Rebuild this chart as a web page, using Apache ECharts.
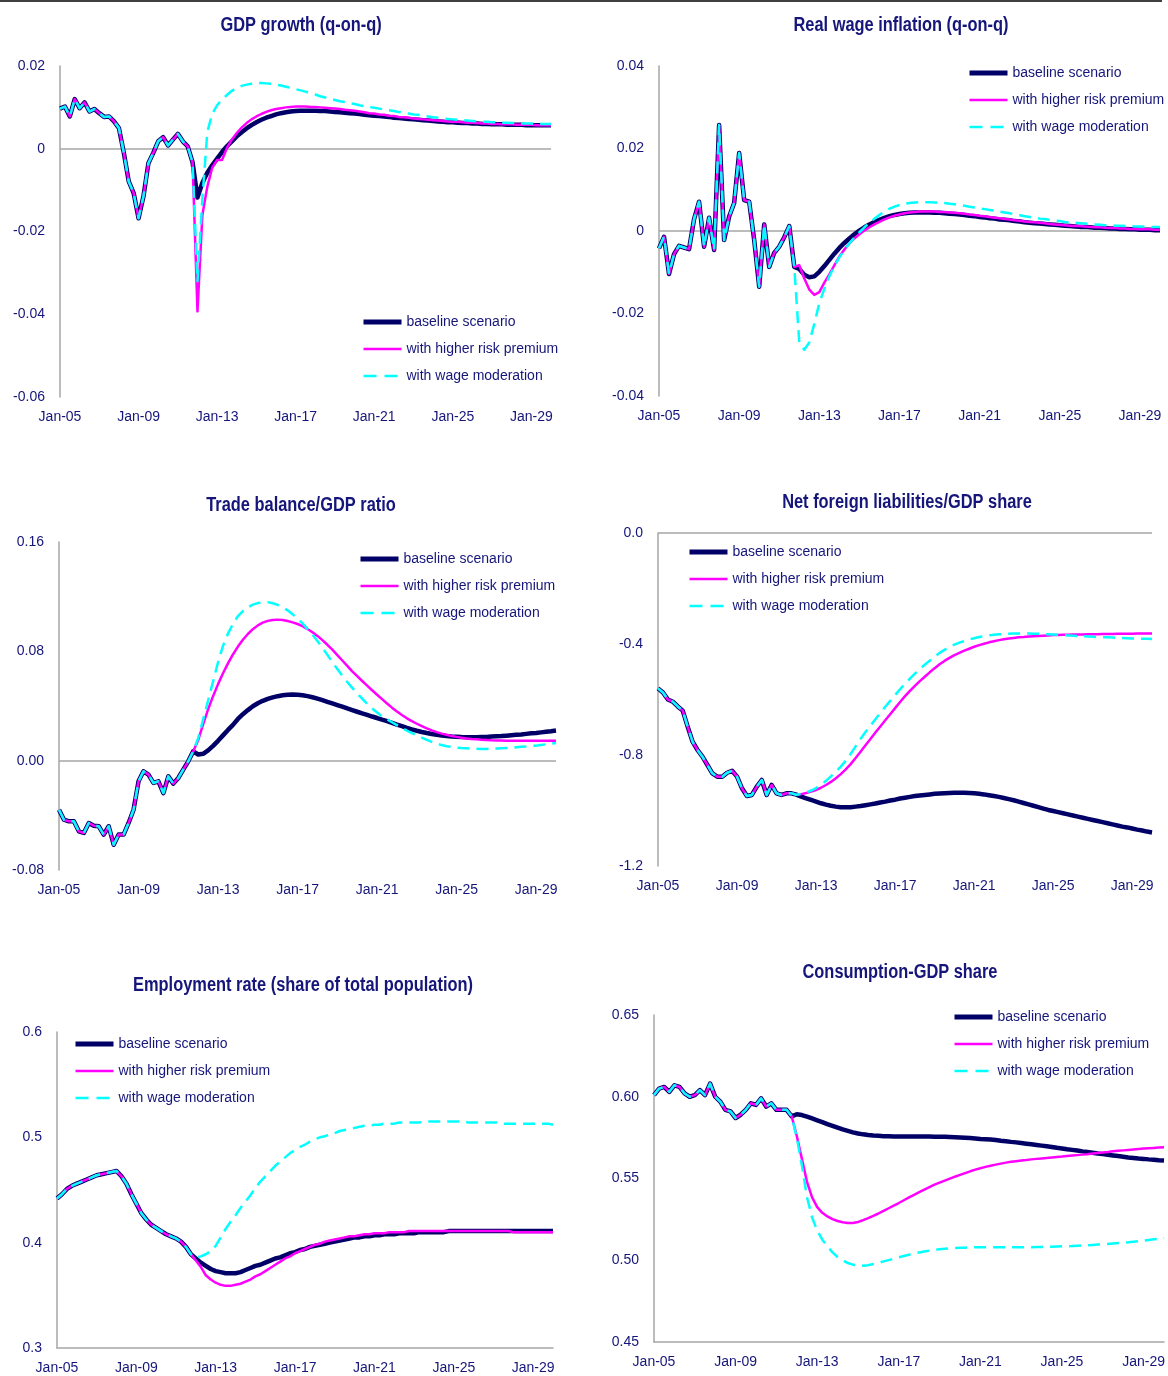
<!DOCTYPE html>
<html><head><meta charset="utf-8">
<script src="https://cdn.jsdelivr.net/npm/echarts@6/dist/echarts.min.js"></script>
<style>html,body{margin:0;padding:0;background:#fff}#c{width:1168px;height:1376px}</style>
</head><body><div id="c"></div>
<script>
// ---------- categories (quarterly, Jan-05 .. Jan-30) ----------
const quarterMonths = ['Jan','Apr','Jul','Oct'];
const firstYear = 2005, nQuarters = 101;
const categories = [];
for (let k = 0; k < nQuarters; k++) {
  const y = firstYear + Math.floor(k / 4);
  categories.push(quarterMonths[k % 4] + '-' + String(y % 100).padStart(2, '0'));
}
const seriesNames = ['baseline scenario', 'with higher risk premium', 'with wage moderation'];

// ---------- GDP growth (q-on-q) ----------
const gdpHist = [0.0097,0.0102,0.0078,0.0120,0.0098,0.0112,0.0090,0.0096,0.0086,0.0077,
  0.0078,0.0066,0.0050,-0.0010,-0.0079,-0.0107,-0.0168,-0.0115,-0.0035,-0.0010,
  0.0018,0.0028,0.0008,0.0022,0.0036,0.0018,0.0006,-0.0033];
const gdpBase = [-0.0118,-0.0082,-0.0058,-0.0040,-0.0024,-0.0008,0.0006,0.0018,0.0030,0.0040,
  0.0049,0.0057,0.0064,0.0070,0.0075,0.0079,0.0083,0.0086,0.0088,0.0090,
  0.0091,0.0092,0.0092,0.0092,0.0092,0.0091,0.0091,0.0090,0.0089,0.0088,
  0.0087,0.0086,0.0085,0.0084,0.0082,0.0081,0.0080,0.0079,0.0078,0.0077,
  0.0075,0.0074,0.0073,0.0072,0.0071,0.0070,0.0069,0.0068,0.0067,0.0066,
  0.0065,0.0064,0.0064,0.0063,0.0062,0.0062,0.0061,0.0061,0.0060,0.0060,
  0.0059,0.0059,0.0059,0.0058,0.0058,0.0058,0.0058,0.0057,0.0057,0.0057,
  0.0057,0.0057,0.0057];
const gdpRisk = [-0.0393,-0.0160,-0.0092,-0.0046,-0.0027,-0.0027,0.0002,0.0022,0.0038,0.0051,
  0.0062,0.0071,0.0078,0.0084,0.0089,0.0093,0.0096,0.0098,0.0100,0.0101,
  0.0102,0.0102,0.0102,0.0101,0.0101,0.0100,0.0099,0.0098,0.0097,0.0096,
  0.0094,0.0093,0.0092,0.0090,0.0088,0.0086,0.0085,0.0083,0.0082,0.0080,
  0.0079,0.0077,0.0076,0.0075,0.0073,0.0072,0.0071,0.0070,0.0069,0.0068,
  0.0067,0.0066,0.0065,0.0065,0.0064,0.0063,0.0063,0.0062,0.0061,0.0061,
  0.0060,0.0060,0.0059,0.0059,0.0059,0.0058,0.0058,0.0058,0.0058,0.0057,
  0.0057,0.0057,0.0057];
const gdpWage = [-0.0320,-0.0120,0.0040,0.0085,0.0105,0.0119,0.0130,0.0140,0.0147,0.0152,
  0.0155,0.0157,0.0159,0.0159,0.0158,0.0157,0.0155,0.0153,0.0150,0.0147,
  0.0144,0.0141,0.0138,0.0134,0.0131,0.0127,0.0124,0.0121,0.0118,0.0115,
  0.0113,0.0110,0.0108,0.0105,0.0103,0.0101,0.0099,0.0097,0.0095,0.0093,
  0.0091,0.0089,0.0087,0.0085,0.0083,0.0082,0.0080,0.0078,0.0076,0.0075,
  0.0073,0.0072,0.0071,0.0070,0.0069,0.0068,0.0067,0.0066,0.0065,0.0065,
  0.0064,0.0064,0.0063,0.0063,0.0062,0.0062,0.0061,0.0061,0.0061,0.0060,
  0.0060,0.0060,0.0060];
const gdpTicks = ['-0.06','-0.04','-0.02','0','0.02'];

// ---------- Real wage inflation (q-on-q) ----------
const rwiHist = [-0.0042,-0.0014,-0.0104,-0.0056,-0.0036,-0.0040,-0.0044,0.0029,0.0071,-0.0038,
  0.0032,-0.0046,0.0257,-0.0022,0.0035,0.0068,0.0189,0.0075,0.0071,-0.0022,
  -0.0135,0.0016,-0.0087,-0.0053,-0.0038,-0.0015,0.0012,-0.0087];
const rwiBase = [-0.0092,-0.0106,-0.0112,-0.0110,-0.0099,-0.0085,-0.0070,-0.0055,-0.0041,-0.0029,
  -0.0018,-0.0008,0.0001,0.0009,0.0016,0.0022,0.0027,0.0032,0.0036,0.0039,
  0.0041,0.0043,0.0044,0.0045,0.0045,0.0045,0.0045,0.0044,0.0044,0.0043,
  0.0042,0.0041,0.0040,0.0039,0.0037,0.0036,0.0034,0.0033,0.0031,0.0030,
  0.0028,0.0027,0.0026,0.0024,0.0023,0.0021,0.0020,0.0019,0.0018,0.0017,
  0.0016,0.0015,0.0014,0.0013,0.0012,0.0011,0.0010,0.0010,0.0009,0.0008,
  0.0008,0.0007,0.0006,0.0006,0.0005,0.0005,0.0004,0.0004,0.0003,0.0003,
  0.0003,0.0002,0.0002];
const rwiRisk = [-0.0083,-0.0115,-0.0142,-0.0155,-0.0148,-0.0125,-0.0105,-0.0083,-0.0062,-0.0045,
  -0.0030,-0.0018,-0.0008,0.0001,0.0009,0.0016,0.0022,0.0028,0.0033,0.0037,
  0.0040,0.0043,0.0045,0.0046,0.0047,0.0047,0.0047,0.0047,0.0046,0.0046,
  0.0045,0.0044,0.0043,0.0042,0.0040,0.0039,0.0037,0.0036,0.0034,0.0032,
  0.0031,0.0029,0.0028,0.0026,0.0025,0.0023,0.0022,0.0021,0.0020,0.0019,
  0.0017,0.0016,0.0015,0.0014,0.0013,0.0012,0.0012,0.0011,0.0010,0.0009,
  0.0009,0.0008,0.0007,0.0007,0.0006,0.0006,0.0005,0.0005,0.0004,0.0004,
  0.0004,0.0003,0.0003];
const rwiWage = [-0.0270,-0.0288,-0.0270,-0.0225,-0.0175,-0.0140,-0.0110,-0.0085,-0.0064,-0.0046,
  -0.0030,-0.0016,-0.0003,0.0009,0.0020,0.0030,0.0039,0.0047,0.0054,0.0059,
  0.0063,0.0066,0.0068,0.0069,0.0070,0.0070,0.0070,0.0069,0.0069,0.0068,
  0.0066,0.0065,0.0063,0.0061,0.0059,0.0057,0.0055,0.0053,0.0051,0.0049,
  0.0047,0.0045,0.0043,0.0040,0.0038,0.0036,0.0034,0.0032,0.0030,0.0029,
  0.0027,0.0025,0.0024,0.0022,0.0021,0.0020,0.0019,0.0018,0.0017,0.0016,
  0.0015,0.0014,0.0014,0.0013,0.0013,0.0012,0.0012,0.0011,0.0011,0.0011,
  0.0010,0.0010,0.0010];
const rwiTicks = ['-0.04','-0.02','0','0.02','0.04'];

// ---------- Trade balance/GDP ratio ----------
const tbHist = [-0.0359,-0.0432,-0.0444,-0.0444,-0.0517,-0.0529,-0.0456,-0.0476,-0.0480,-0.0541,
  -0.0480,-0.0615,-0.0541,-0.0541,-0.0456,-0.0359,-0.0151,-0.0078,-0.0102,-0.0163,
  -0.0151,-0.0237,-0.0115,-0.0168,-0.0127,-0.0066,-0.0005,0.0068];
const tbBase = [0.0045,0.0050,0.0075,0.0108,0.0145,0.0185,0.0225,0.0262,0.0305,0.0340,
  0.0370,0.0398,0.0420,0.0438,0.0452,0.0463,0.0472,0.0478,0.0482,0.0484,
  0.0483,0.0479,0.0472,0.0464,0.0454,0.0443,0.0431,0.0419,0.0407,0.0395,
  0.0382,0.0370,0.0358,0.0346,0.0335,0.0323,0.0312,0.0300,0.0289,0.0277,
  0.0264,0.0252,0.0240,0.0229,0.0219,0.0210,0.0202,0.0195,0.0189,0.0184,
  0.0180,0.0177,0.0175,0.0173,0.0172,0.0172,0.0172,0.0173,0.0174,0.0176,
  0.0178,0.0180,0.0183,0.0186,0.0189,0.0192,0.0196,0.0200,0.0203,0.0207,
  0.0211,0.0215,0.0220];
const tbRisk = [0.0150,0.0265,0.0375,0.0472,0.0560,0.0640,0.0712,0.0777,0.0835,0.0885,
  0.0927,0.0962,0.0990,0.1010,0.1023,0.1030,0.1032,0.1029,0.1022,0.1012,
  0.1000,0.0984,0.0963,0.0940,0.0913,0.0882,0.0848,0.0812,0.0773,0.0733,
  0.0693,0.0654,0.0618,0.0583,0.0549,0.0515,0.0482,0.0450,0.0418,0.0388,
  0.0360,0.0334,0.0310,0.0289,0.0270,0.0252,0.0236,0.0222,0.0209,0.0198,
  0.0189,0.0181,0.0174,0.0168,0.0163,0.0159,0.0156,0.0153,0.0151,0.0149,
  0.0148,0.0147,0.0146,0.0146,0.0146,0.0145,0.0145,0.0145,0.0145,0.0145,
  0.0145,0.0146,0.0146];
const tbWage = [0.0165,0.0300,0.0440,0.0580,0.0720,0.0840,0.0930,0.1000,0.1058,0.1095,
  0.1122,0.1142,0.1153,0.1159,0.1160,0.1152,0.1140,0.1122,0.1100,0.1072,
  0.1040,0.1005,0.0964,0.0922,0.0876,0.0826,0.0774,0.0720,0.0670,0.0622,
  0.0576,0.0533,0.0493,0.0454,0.0416,0.0382,0.0352,0.0325,0.0302,0.0281,
  0.0260,0.0240,0.0220,0.0202,0.0185,0.0168,0.0152,0.0138,0.0125,0.0114,
  0.0106,0.0100,0.0095,0.0092,0.0090,0.0088,0.0087,0.0086,0.0086,0.0087,
  0.0089,0.0091,0.0093,0.0095,0.0098,0.0101,0.0104,0.0107,0.0110,0.0115,
  0.0120,0.0125,0.0129];
const tbTicks = ['-0.08','0.00','0.08','0.16'];

// ---------- Net foreign liabilities/GDP share ----------
const nflHist = [-0.560,-0.575,-0.600,-0.608,-0.625,-0.640,-0.698,-0.752,-0.782,-0.806,
  -0.836,-0.866,-0.878,-0.878,-0.864,-0.857,-0.878,-0.920,-0.948,-0.944,
  -0.914,-0.890,-0.944,-0.908,-0.938,-0.944,-0.938,-0.938];
const nflBase = [-0.943,-0.950,-0.956,-0.962,-0.968,-0.974,-0.979,-0.983,-0.986,-0.988,
  -0.988,-0.988,-0.986,-0.984,-0.981,-0.978,-0.975,-0.971,-0.968,-0.964,
  -0.961,-0.957,-0.954,-0.951,-0.948,-0.946,-0.944,-0.942,-0.940,-0.939,
  -0.938,-0.937,-0.936,-0.936,-0.936,-0.937,-0.938,-0.940,-0.942,-0.945,
  -0.948,-0.951,-0.955,-0.959,-0.963,-0.968,-0.973,-0.978,-0.983,-0.988,
  -0.993,-0.998,-1.002,-1.006,-1.010,-1.014,-1.018,-1.022,-1.026,-1.030,
  -1.034,-1.038,-1.042,-1.046,-1.050,-1.054,-1.058,-1.061,-1.065,-1.069,
  -1.072,-1.076,-1.079];
const nflRisk = [-0.943,-0.941,-0.937,-0.932,-0.926,-0.918,-0.908,-0.897,-0.884,-0.869,
  -0.852,-0.833,-0.811,-0.788,-0.765,-0.742,-0.719,-0.697,-0.675,-0.653,
  -0.631,-0.609,-0.588,-0.569,-0.551,-0.534,-0.518,-0.502,-0.487,-0.473,
  -0.461,-0.450,-0.440,-0.432,-0.424,-0.417,-0.410,-0.404,-0.399,-0.394,
  -0.390,-0.386,-0.383,-0.380,-0.378,-0.376,-0.375,-0.373,-0.372,-0.371,
  -0.370,-0.369,-0.368,-0.368,-0.367,-0.367,-0.366,-0.366,-0.366,-0.365,
  -0.365,-0.365,-0.364,-0.364,-0.364,-0.363,-0.363,-0.363,-0.363,-0.362,
  -0.362,-0.362,-0.362];
const nflWage = [-0.943,-0.940,-0.935,-0.928,-0.919,-0.907,-0.893,-0.877,-0.860,-0.842,
  -0.821,-0.796,-0.769,-0.742,-0.717,-0.694,-0.671,-0.649,-0.626,-0.605,
  -0.584,-0.563,-0.543,-0.525,-0.507,-0.490,-0.475,-0.460,-0.446,-0.432,
  -0.421,-0.411,-0.402,-0.395,-0.389,-0.384,-0.379,-0.375,-0.372,-0.369,
  -0.367,-0.365,-0.364,-0.363,-0.362,-0.362,-0.362,-0.362,-0.363,-0.363,
  -0.364,-0.365,-0.366,-0.367,-0.368,-0.369,-0.370,-0.371,-0.372,-0.373,
  -0.374,-0.375,-0.376,-0.376,-0.377,-0.378,-0.378,-0.379,-0.380,-0.380,
  -0.381,-0.381,-0.382];
const nflTicks = ['-1.2','-0.8','-0.4','0.0'];

// ---------- Employment rate (share of total population) ----------
const empHist = [0.442,0.446,0.451,0.454,0.456,0.458,0.460,0.462,0.464,0.465,
  0.466,0.467,0.468,0.463,0.456,0.446,0.437,0.428,0.422,0.417,
  0.414,0.411,0.408,0.406,0.404,0.401,0.396,0.389];
const empBase = [0.385,0.381,0.378,0.375,0.373,0.372,0.371,0.371,0.371,0.372,
  0.374,0.376,0.378,0.379,0.381,0.383,0.385,0.386,0.388,0.390,
  0.391,0.393,0.394,0.396,0.397,0.398,0.399,0.400,0.401,0.402,
  0.403,0.404,0.405,0.405,0.406,0.406,0.407,0.407,0.408,0.408,
  0.408,0.409,0.409,0.409,0.409,0.410,0.410,0.410,0.410,0.410,
  0.410,0.411,0.411,0.411,0.411,0.411,0.411,0.411,0.411,0.411,
  0.411,0.411,0.411,0.411,0.411,0.411,0.411,0.411,0.411,0.411,
  0.411,0.411,0.411];
const empRisk = [0.383,0.377,0.369,0.365,0.362,0.360,0.359,0.359,0.360,0.361,
  0.363,0.365,0.368,0.370,0.373,0.376,0.379,0.382,0.385,0.387,
  0.390,0.392,0.394,0.396,0.398,0.399,0.401,0.402,0.403,0.404,
  0.405,0.406,0.406,0.407,0.408,0.408,0.409,0.409,0.409,0.410,
  0.410,0.410,0.410,0.411,0.411,0.411,0.411,0.411,0.411,0.411,
  0.411,0.411,0.411,0.411,0.411,0.411,0.411,0.411,0.411,0.411,
  0.411,0.411,0.411,0.411,0.410,0.410,0.410,0.410,0.410,0.410,
  0.410,0.410,0.410];
const empWage = [0.386,0.387,0.389,0.392,0.397,0.405,0.413,0.420,0.426,0.433,
  0.439,0.445,0.452,0.458,0.463,0.468,0.473,0.477,0.481,0.485,
  0.488,0.491,0.493,0.496,0.498,0.500,0.501,0.503,0.504,0.506,
  0.507,0.508,0.509,0.510,0.511,0.511,0.512,0.512,0.513,0.513,
  0.513,0.514,0.514,0.514,0.514,0.514,0.515,0.515,0.515,0.515,
  0.515,0.515,0.515,0.515,0.515,0.514,0.514,0.514,0.514,0.514,
  0.514,0.514,0.513,0.513,0.513,0.513,0.513,0.513,0.513,0.513,
  0.513,0.513,0.512];
const empTicks = ['0.3','0.4','0.5','0.6'];

// ---------- Consumption-GDP share ----------
const consHist = [0.601,0.605,0.606,0.603,0.607,0.606,0.602,0.600,0.601,0.604,
  0.601,0.608,0.600,0.597,0.592,0.591,0.587,0.589,0.592,0.596,
  0.595,0.599,0.594,0.596,0.592,0.592,0.592,0.588];
const consBase = [0.5893,0.5888,0.5878,0.5867,0.5856,0.5845,0.5833,0.5822,0.5811,0.5800,
  0.5791,0.5782,0.5775,0.5770,0.5766,0.5763,0.5761,0.5759,0.5758,0.5757,
  0.5757,0.5757,0.5757,0.5757,0.5757,0.5757,0.5757,0.5756,0.5756,0.5755,
  0.5754,0.5753,0.5751,0.5749,0.5747,0.5745,0.5742,0.5740,0.5738,0.5735,
  0.5731,0.5728,0.5724,0.5721,0.5717,0.5713,0.5709,0.5705,0.5701,0.5697,
  0.5693,0.5688,0.5684,0.5679,0.5675,0.5671,0.5666,0.5662,0.5658,0.5653,
  0.5649,0.5645,0.5641,0.5637,0.5633,0.5629,0.5626,0.5622,0.5620,0.5617,
  0.5615,0.5612,0.5610];
const consRisk = [0.5760,0.5620,0.5480,0.5385,0.5325,0.5290,0.5268,0.5252,0.5240,0.5232,
  0.5228,0.5228,0.5234,0.5245,0.5258,0.5272,0.5286,0.5302,0.5318,0.5334,
  0.5350,0.5367,0.5384,0.5400,0.5416,0.5432,0.5447,0.5462,0.5475,0.5487,
  0.5499,0.5511,0.5522,0.5533,0.5544,0.5554,0.5563,0.5571,0.5578,0.5585,
  0.5591,0.5597,0.5602,0.5606,0.5610,0.5613,0.5617,0.5620,0.5623,0.5626,
  0.5629,0.5632,0.5634,0.5637,0.5640,0.5643,0.5646,0.5649,0.5653,0.5656,
  0.5659,0.5662,0.5666,0.5669,0.5672,0.5675,0.5678,0.5681,0.5683,0.5685,
  0.5687,0.5689,0.5691];
const consWage = [0.5750,0.5580,0.5385,0.5262,0.5180,0.5126,0.5085,0.5048,0.5020,0.5000,
  0.4983,0.4973,0.4968,0.4967,0.4970,0.4977,0.4984,0.4993,0.5001,0.5009,
  0.5018,0.5026,0.5034,0.5041,0.5048,0.5054,0.5059,0.5064,0.5067,0.5070,
  0.5073,0.5075,0.5076,0.5077,0.5078,0.5079,0.5079,0.5080,0.5080,0.5080,
  0.5080,0.5080,0.5080,0.5080,0.5080,0.5080,0.5080,0.5081,0.5081,0.5082,
  0.5083,0.5084,0.5085,0.5086,0.5087,0.5089,0.5090,0.5092,0.5094,0.5096,
  0.5098,0.5100,0.5103,0.5105,0.5108,0.5110,0.5113,0.5116,0.5120,0.5124,
  0.5128,0.5132,0.5137];
const consTicks = ['0.45','0.50','0.55','0.60','0.65'];

// ---------- layout / styling ----------
const FONT = "'Liberation Sans', Arial, Helvetica, sans-serif";
const TXT = '#15157a';
const GRAY = '#a6a6a6';
const panels = [
  {title:'GDP growth (q-on-q)', tx:301, ty:25, grid:{left:60,top:66,width:491,height:331},
   min:-0.06, max:0.02, step:0.02, ticks:gdpTicks, hist:gdpHist, s:[gdpBase,gdpRisk,gdpWage],
   lg:{left:361, top:314}, zero:true, bottom:false},
  {title:'Real wage inflation (q-on-q)', tx:901, ty:25, grid:{left:659,top:66,width:501,height:330},
   min:-0.04, max:0.04, step:0.02, ticks:rwiTicks, hist:rwiHist, s:[rwiBase,rwiRisk,rwiWage],
   lg:{left:967, top:65}, zero:true, bottom:false},
  {title:'Trade balance/GDP ratio', tx:301, ty:505, grid:{left:59,top:542,width:497,height:328},
   min:-0.08, max:0.16, step:0.08, ticks:tbTicks, hist:tbHist, s:[tbBase,tbRisk,tbWage],
   lg:{left:358, top:551}, zero:true, bottom:false},
  {title:'Net foreign liabilities/GDP share', tx:907, ty:502, grid:{left:658,top:533,width:494,height:333},
   min:-1.2, max:0, step:0.4, ticks:nflTicks, hist:nflHist, s:[nflBase,nflRisk,nflWage],
   lg:{left:687, top:544}, zero:true, bottom:false},
  {title:'Employment rate (share of total population)', tx:303, ty:985, grid:{left:57,top:1032,width:496,height:316},
   min:0.3, max:0.6, step:0.1, ticks:empTicks, hist:empHist, s:[empBase,empRisk,empWage],
   lg:{left:73, top:1036}, zero:false, bottom:true},
  {title:'Consumption-GDP share', tx:900, ty:972, grid:{left:654,top:1015,width:510,height:327},
   min:0.45, max:0.65, step:0.05, ticks:consTicks, hist:consHist, s:[consBase,consRisk,consWage],
   lg:{left:952, top:1009}, zero:false, bottom:true}
];
const lineStyles = [
  {color:'#000066', width:4.5, type:'solid'},
  {color:'#ff00ff', width:2.5, type:'solid'},
  {color:'#00ffff', width:2.5, type:[12,7]}
];
const legendLine = [
  {width:5, type:'solid'}, {width:2.5, type:'solid'}, {width:2.5, type:[13,8]}
];

panels.forEach(p => {
  if (p.hist.length !== 28) throw new Error(p.title + ' hist len ' + p.hist.length);
  p.s.forEach((a, j) => { if (a.length !== 73) throw new Error(p.title + ' series ' + j + ' len ' + a.length); });
});

const grids = [], xAxes = [], yAxes = [], series = [], legends = [], graphics = [];
panels.forEach((p, k) => {
  grids.push(Object.assign({containLabel:false}, p.grid));
  xAxes.push({
    type:'category', gridIndex:k, data:categories, boundaryGap:false,
    axisLine:{show:p.bottom, onZero:false, lineStyle:{color:GRAY, width:1.5}},
    axisTick:{show:false}, splitLine:{show:false},
    axisLabel:{interval:15, margin:13, color:TXT, fontSize:14, fontFamily:FONT}
  });
  yAxes.push({
    type:'value', gridIndex:k, min:p.min, max:p.max, interval:p.step,
    axisLine:{show:true, onZero:false, lineStyle:{color:GRAY, width:1.5}},
    axisTick:{show:false}, splitLine:{show:false},
    axisLabel:{margin:15, color:TXT, fontSize:14, fontFamily:FONT,
      formatter: v => p.ticks[Math.round((v - p.min) / p.step)]}
  });
  seriesNames.forEach((nm, j) => {
    const s = {
      type:'line', name:nm, xAxisIndex:k, yAxisIndex:k,
      data: p.hist.concat(p.s[j]),
      symbol:'none', showSymbol:false, silent:true,
      lineStyle:Object.assign({cap:'butt', join:'round'}, lineStyles[j]),
      itemStyle:{color:lineStyles[j].color},
      z: 3 + j
    };
    if (j === 0 && p.zero) {
      s.markLine = {silent:true, symbol:['none','none'], z:1, label:{show:false},
        lineStyle:{color:GRAY, width:1.5, type:'solid'}, data:[{yAxis:0}]};
    }
    series.push(s);
  });
  legends.push({
    orient:'vertical', left:p.lg.left, top:p.lg.top, padding:0,
    itemWidth:38, itemHeight:16, itemGap:11, selectedMode:false,
    itemStyle:{opacity:0},
    textStyle:{fontSize:14, color:TXT, fontFamily:FONT, lineHeight:16},
    data: seriesNames.map((nm, j) => ({name:nm, itemStyle:{opacity:0},
      lineStyle:{width:legendLine[j].width, type:legendLine[j].type}}))
  });
  graphics.push({
    type:'text', x:p.tx, y:p.ty, scaleX:0.82, scaleY:1, silent:true,
    style:{text:p.title, fill:TXT, font:'bold 20px ' + FONT, textAlign:'center', textVerticalAlign:'middle'}
  });
});
graphics.push({type:'line', silent:true, shape:{x1:0, y1:1, x2:1162, y2:1}, style:{stroke:'#000', lineWidth:1.5}});

const chart = echarts.init(document.getElementById('c'), null, {renderer:'canvas'});
chart.setOption({
  animation:false, backgroundColor:'#ffffff',
  grid:grids, xAxis:xAxes, yAxis:yAxes, series:series, legend:legends, graphic:graphics
});
</script>
</body></html>
